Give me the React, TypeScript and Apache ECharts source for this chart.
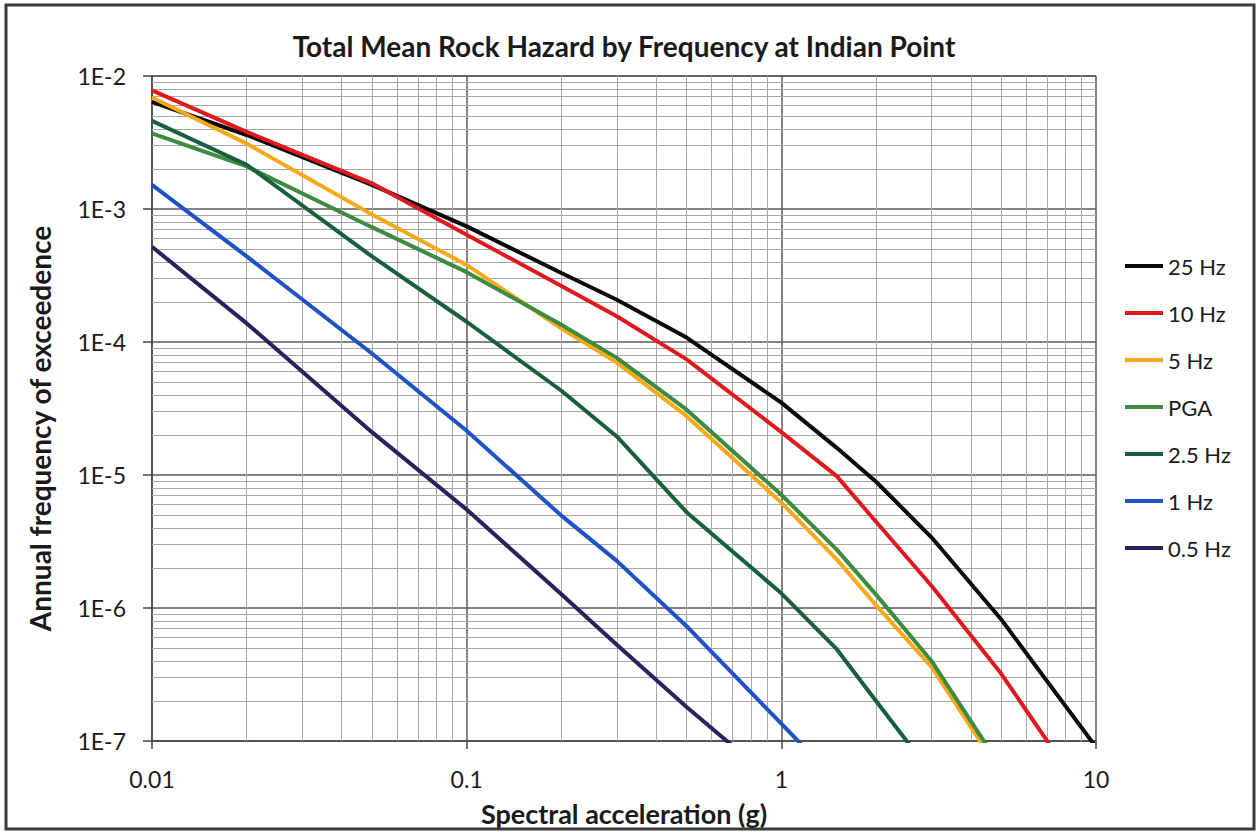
import React, { useEffect, useRef } from "react";
import * as echarts from "echarts";

// Spectral acceleration (g)
const accel = [0.01, 0.02, 0.05, 0.1, 0.2, 0.3, 0.5, 1, 1.5, 2, 3, 5, 10];

const hz25 = [6.4e-3, 3.6e-3, 1.52e-3, 7.4e-4, 3.3e-4, 2.08e-4, 1.08e-4, 3.5e-5, 1.6e-5, 8.9e-6, 3.4e-6, 8.2e-7, 9e-8];
const hz10 = [7.8e-3, 3.8e-3, 1.56e-3, 6.4e-4, 2.64e-4, 1.56e-4, 7.4e-5, 2.1e-5, 9.8e-6, 4.45e-6, 1.47e-6, 3.2e-7, 2.9e-8];
const hz5 = [6.9e-3, 3.1e-3, 9.1e-4, 3.8e-4, 1.26e-4, 7.0e-5, 2.77e-5, 6.2e-6, 2.32e-6, 1.05e-6, 3.6e-7, 5.7e-8, 3e-9];
const pga = [3.7e-3, 2.09e-3, 7.3e-4, 3.35e-4, 1.35e-4, 7.6e-5, 3.1e-5, 7.1e-6, 2.75e-6, 1.26e-6, 4.0e-7, 6.3e-8, 4e-9];
const hz2_5 = [4.6e-3, 2.15e-3, 4.4e-4, 1.42e-4, 4.3e-5, 1.95e-5, 5.25e-6, 1.29e-6, 4.9e-7, 2.0e-7, 5.7e-8, 1e-8, 1e-9];
const hz1 = [1.52e-3, 4.4e-4, 8.2e-5, 2.15e-5, 4.95e-6, 2.26e-6, 7.3e-7, 1.35e-7, 5e-8, 2.5e-8, 1e-8, 2e-9, 1e-10];
const hz0_5 = [5.2e-4, 1.38e-4, 2.1e-5, 5.5e-6, 1.27e-6, 5.3e-7, 1.8e-7, 4.5e-8, 1.5e-8, 7e-9, 2e-9, 5e-10, 5e-11];

const seriesNames = ["25 Hz", "10 Hz", "5 Hz", "PGA", "2.5 Hz", "1 Hz", "0.5 Hz"];
const seriesValues = [hz25, hz10, hz5, pga, hz2_5, hz1, hz0_5];
const seriesColors = ["#0a0a0a", "#e0191e", "#f7a81b", "#3c8b3f", "#17603b", "#1f52c6", "#2a225e"];

const xTickLabels = ["0.01", "0.1", "1", "10"];
const yTickLabels = ["1E-7", "1E-6", "1E-5", "1E-4", "1E-3", "1E-2"];

// minor grid values (2..9 per decade)
const minorMultipliers = [2, 3, 4, 5, 6, 7, 8, 9];
const xDecades = [0.01, 0.1, 1];
const yDecades = [1e-7, 1e-6, 1e-5, 1e-4, 1e-3];
const xMin = 0.01, xMax = 10, yMin = 1e-7, yMax = 1e-2;

const FONT = "Lato";

export default function App() {
  const ref = useRef<HTMLDivElement>(null);
  useEffect(() => {
    document.body.style.margin = "0";
    const chart = echarts.init(ref.current!, null, { renderer: "svg" });
    const minorLines: any[] = [];
    xDecades.forEach((d) =>
      minorMultipliers.forEach((m) => {
        const v = +(d * m).toPrecision(3);
        minorLines.push([{ coord: [v, yMin] }, { coord: [v, yMax] }]);
      })
    );
    yDecades.forEach((d) =>
      minorMultipliers.forEach((m) => {
        const v = +(d * m).toPrecision(3);
        minorLines.push([{ coord: [xMin, v] }, { coord: [xMax, v] }]);
      })
    );

    const lineSeries = seriesNames.map((name, i) => ({
      name,
      type: "line",
      data: accel.map((x, j) => [x, seriesValues[i][j]]),
      showSymbol: false,
      symbol: "none",
      lineStyle: { color: seriesColors[i], width: 4 },
      itemStyle: { color: seriesColors[i] },
      clip: true,
      z: 5,
    }));

    chart.setOption({
      animation: false,
      backgroundColor: "#ffffff",
      textStyle: { fontFamily: FONT },
      title: {
        text: "Total Mean Rock Hazard by Frequency at Indian Point",
        left: 619,
        textAlign: "center",
        top: 27,
        textStyle: { fontFamily: FONT, fontSize: 28, fontWeight: "bold", color: "#1a1a1a" },
      },
      grid: { left: 152, right: 164, top: 76, bottom: 90 },
      legend: {
        orient: "vertical",
        left: 1125,
        top: 255,
        padding: 0,
        data: seriesNames,
        icon: "rect",
        itemWidth: 38,
        itemHeight: 4,
        itemGap: 25,
        itemTextGap: 3,
        textStyle: { fontFamily: FONT, fontSize: 22, color: "#1a1a1a" },
      },
      xAxis: {
        type: "log",
        logBase: 10,
        min: xMin,
        max: xMax,
        axisLine: { show: true, lineStyle: { color: "#444", width: 1.5 } },
        axisTick: { show: true, length: 8, lineStyle: { color: "#444", width: 1.5 } },
        axisLabel: {
          margin: 26,
          fontFamily: FONT,
          fontSize: 23,
          color: "#1a1a1a",
          formatter: (v: number) => xTickLabels[Math.round(Math.log10(v)) + 2],
        },
        splitLine: { show: true, lineStyle: { color: "#5a5a5a", width: 1.5 } },
        name: "Spectral acceleration (g)",
        nameLocation: "middle",
        nameGap: 59,
        nameTextStyle: { fontFamily: FONT, fontSize: 27, fontWeight: "bold", color: "#1a1a1a" },
      },
      yAxis: {
        type: "log",
        logBase: 10,
        min: yMin,
        max: yMax,
        splitNumber: 5,
        axisLine: { show: true, lineStyle: { color: "#444", width: 1.5 } },
        axisTick: { show: true, length: 9, lineStyle: { color: "#444", width: 1.5 } },
        axisLabel: {
          margin: 26,
          fontFamily: FONT,
          fontSize: 23,
          color: "#1a1a1a",
          formatter: (v: number) => yTickLabels[Math.round(Math.log10(v)) + 7],
        },
        splitLine: { show: true, lineStyle: { color: "#5a5a5a", width: 1.5 } },
        name: "Annual frequency of exceedence",
        nameLocation: "middle",
        nameGap: 98,
        nameTextStyle: {
          fontFamily: FONT,
          fontSize: 28,
          fontWeight: "bold",
          color: "#1a1a1a",
          padding: [0, 40, 0, 0],
        },
      },
      graphic: [
        {
          type: "rect",
          shape: { x: 6, y: 5, width: 1248, height: 824 },
          style: { fill: "none", stroke: "#3a3a3a", lineWidth: 3 },
          z: 100,
          silent: true,
        },
      ],
      series: [
        {
          name: "minor grid",
          type: "line",
          data: [],
          silent: true,
          z: 1,
          markLine: {
            silent: true,
            symbol: "none",
            animation: false,
            label: { show: false },
            lineStyle: { color: "#a8a8a8", width: 1, type: "solid" },
            emphasis: { disabled: true },
            data: minorLines,
          },
        },
        ...lineSeries,
      ],
    });
    return () => chart.dispose();
  }, []);
  return <div ref={ref} style={{ width: 1260, height: 832 }} />;
}
